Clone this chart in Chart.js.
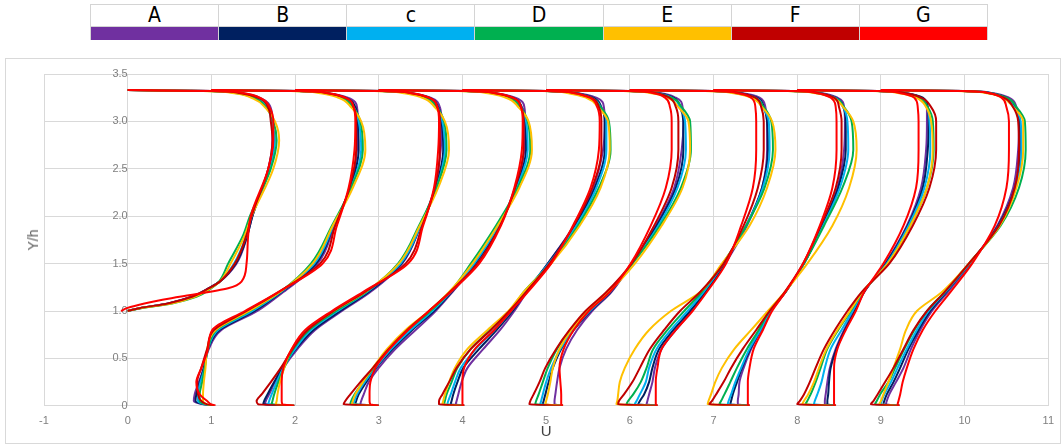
<!DOCTYPE html>
<html>
<head>
<meta charset="utf-8">
<script src="https://cdn.jsdelivr.net/npm/chart.js@4.4.1/dist/chart.umd.min.js"></script>
<style>
  html, body { margin: 0; padding: 0; background: #fff; }
  body { width: 1063px; height: 445px; position: relative; overflow: hidden; font-family: "Liberation Sans", Arial, sans-serif; }
  #key { position: absolute; left: 90px; top: 4px; width: 898px; border-collapse: collapse; table-layout: fixed; }
  #key td { width: 128px; padding: 0; border: 1px solid #d4d4d4; text-align: center; box-sizing: border-box; overflow: hidden; }
  #key tr.names td { height: 22px; line-height: 21px; font-size: 21px; font-family: "Liberation Sans Narrow", "DejaVu Sans Condensed", sans-serif; color: #000; }
  #key tr.swatches td { height: 13px; border-top: none; border-bottom: none; }
  #frame { position: absolute; left: 5px; top: 58px; width: 1054px; height: 384px; border: 1px solid #d9d9d9; }
  #chart { position: absolute; left: 0; top: 58px; }
  #ytitle { position: absolute; left: 33px; top: 240px; transform: translate(-50%, -50%) rotate(-90deg); font-size: 14px; color: #595959; white-space: nowrap; }
</style>
</head>
<body>
<table id="key"><tr class="names"></tr><tr class="swatches"></tr></table>
<div id="frame"></div>
<canvas id="chart" width="1063" height="387"></canvas>
<div id="ytitle">Y/h</div>
<script>
const seriesNames  = ['A', 'B', 'c', 'D', 'E', 'F', 'G'];
const seriesColors = ['#7030a0', '#002060', '#00b0f0', '#00b050', '#ffc000', '#c00000', '#ff0000'];

// heights of the sampled points: profile 0 starts on the step (Y/h = 1), the others on the floor
const yStep = [1.0, 1.03, 1.08, 1.15, 1.24, 1.31, 1.5, 1.8, 2.0, 2.5, 2.8, 3.0, 3.14, 3.24, 3.3, 3.32, 3.33];
const yWall = [0, 0.015, 0.05, 0.12, 0.25, 0.4, 0.6, 0.8, 1.0, 1.2, 1.5, 1.9, 2.3, 2.7, 3.0, 3.15, 3.25, 3.3, 3.32, 3.33];

// plotted U position for each of the 10 profiles (profile n is shifted by n)
const uA = [
  [0, 0.14, 0.48, 0.76, 0.97, 1.10, 1.30, 1.43, 1.49, 1.68, 1.73, 1.73, 1.71, 1.60, 1.36, 1.02, 0],
  [1.03, 0.90, 0.79, 0.80, 0.85, 0.91, 0.97, 1.12, 1.55, 1.86, 2.27, 2.47, 2.66, 2.74, 2.75, 2.74, 2.63, 2.38, 2.05, 1],
  [1.99, 1.64, 1.65, 1.69, 1.76, 1.86, 2.03, 2.24, 2.56, 2.90, 3.28, 3.50, 3.67, 3.74, 3.75, 3.73, 3.62, 3.38, 3.05, 2],
  [3.00, 2.78, 2.79, 2.82, 2.88, 3.00, 3.20, 3.44, 3.68, 3.88, 4.16, 4.44, 4.63, 4.74, 4.75, 4.74, 4.63, 4.38, 4.05, 3],
  [4.02, 3.92, 3.93, 3.95, 3.99, 4.06, 4.25, 4.45, 4.62, 4.77, 5.02, 5.33, 5.56, 5.68, 5.70, 5.69, 5.60, 5.36, 5.02, 4],
  [5.20, 5.10, 5.10, 5.11, 5.13, 5.16, 5.24, 5.37, 5.55, 5.78, 6.02, 6.31, 6.53, 6.62, 6.64, 6.63, 6.55, 6.35, 6.02, 5],
  [6.33, 6.20, 6.21, 6.23, 6.27, 6.30, 6.38, 6.55, 6.74, 6.91, 7.14, 7.40, 7.58, 7.64, 7.64, 7.62, 7.55, 7.33, 7.00, 6],
  [7.43, 7.29, 7.29, 7.30, 7.31, 7.36, 7.45, 7.57, 7.69, 7.86, 8.08, 8.30, 8.48, 8.56, 8.57, 8.56, 8.48, 8.27, 7.95, 7],
  [8.46, 8.33, 8.33, 8.34, 8.36, 8.39, 8.46, 8.56, 8.68, 8.80, 9.05, 9.31, 9.48, 9.54, 9.55, 9.55, 9.48, 9.28, 8.97, 8],
  [9.22, 9.06, 9.07, 9.10, 9.18, 9.27, 9.36, 9.47, 9.61, 9.80, 10.07, 10.39, 10.58, 10.64, 10.65, 10.62, 10.53, 10.32, 10.00, 9]
];
const uB = [
  [0, 0.14, 0.49, 0.77, 0.97, 1.10, 1.29, 1.43, 1.49, 1.69, 1.74, 1.72, 1.69, 1.57, 1.33, 1.00, 0],
  [1.03, 0.91, 0.81, 0.82, 0.86, 0.91, 0.96, 1.10, 1.52, 1.84, 2.25, 2.46, 2.66, 2.76, 2.75, 2.72, 2.60, 2.36, 2.05, 1],
  [1.99, 1.62, 1.63, 1.67, 1.75, 1.85, 2.01, 2.22, 2.54, 2.88, 3.27, 3.50, 3.68, 3.77, 3.75, 3.71, 3.60, 3.36, 3.05, 2],
  [3.00, 2.72, 2.73, 2.76, 2.85, 2.97, 3.17, 3.40, 3.66, 3.87, 4.15, 4.44, 4.64, 4.76, 4.75, 4.71, 4.60, 4.36, 4.05, 3],
  [4.02, 3.86, 3.87, 3.89, 3.94, 4.01, 4.20, 4.41, 4.60, 4.76, 5.02, 5.34, 5.58, 5.70, 5.70, 5.66, 5.56, 5.34, 5.02, 4],
  [5.20, 4.96, 4.97, 4.99, 5.03, 5.08, 5.18, 5.33, 5.53, 5.77, 6.02, 6.32, 6.55, 6.64, 6.64, 6.60, 6.52, 6.32, 6.00, 5],
  [6.33, 6.10, 6.12, 6.17, 6.23, 6.27, 6.35, 6.52, 6.72, 6.90, 7.13, 7.39, 7.58, 7.65, 7.64, 7.60, 7.52, 7.30, 7.00, 6],
  [7.43, 7.20, 7.21, 7.23, 7.28, 7.34, 7.44, 7.56, 7.68, 7.86, 8.08, 8.30, 8.49, 8.58, 8.58, 8.55, 8.46, 8.25, 7.95, 7],
  [8.46, 8.36, 8.36, 8.37, 8.38, 8.40, 8.47, 8.57, 8.69, 8.80, 9.06, 9.32, 9.50, 9.56, 9.57, 9.56, 9.50, 9.28, 8.97, 8],
  [9.22, 9.03, 9.04, 9.07, 9.15, 9.23, 9.33, 9.45, 9.59, 9.78, 10.06, 10.40, 10.60, 10.66, 10.66, 10.60, 10.50, 10.30, 10.00, 9]
];
const uC = [
  [0, 0.15, 0.50, 0.78, 0.98, 1.10, 1.27, 1.42, 1.48, 1.70, 1.76, 1.72, 1.67, 1.55, 1.30, 1.00, 0],
  [1.03, 0.92, 0.84, 0.84, 0.87, 0.92, 0.96, 1.08, 1.49, 1.83, 2.23, 2.46, 2.67, 2.79, 2.76, 2.70, 2.58, 2.35, 2.03, 1],
  [1.99, 1.68, 1.69, 1.72, 1.78, 1.86, 2.00, 2.19, 2.51, 2.86, 3.26, 3.50, 3.69, 3.79, 3.76, 3.70, 3.58, 3.35, 3.03, 2],
  [3.00, 2.70, 2.71, 2.74, 2.83, 2.96, 3.15, 3.38, 3.64, 3.86, 4.14, 4.43, 4.65, 4.78, 4.76, 4.70, 4.58, 4.35, 4.03, 3],
  [4.02, 3.82, 3.83, 3.86, 3.91, 3.98, 4.16, 4.38, 4.58, 4.75, 5.03, 5.36, 5.60, 5.72, 5.72, 5.65, 5.54, 5.32, 5.00, 4],
  [5.20, 4.93, 4.94, 4.96, 5.00, 5.06, 5.17, 5.32, 5.52, 5.76, 6.03, 6.34, 6.57, 6.67, 6.66, 6.60, 6.50, 6.30, 5.98, 5],
  [6.33, 6.06, 6.08, 6.12, 6.19, 6.23, 6.32, 6.49, 6.69, 6.88, 7.12, 7.39, 7.59, 7.67, 7.66, 7.59, 7.50, 7.28, 6.98, 6],
  [7.43, 7.17, 7.18, 7.21, 7.26, 7.33, 7.43, 7.56, 7.68, 7.86, 8.08, 8.31, 8.51, 8.61, 8.60, 8.55, 8.45, 8.24, 7.93, 7],
  [8.46, 8.20, 8.21, 8.24, 8.29, 8.33, 8.40, 8.53, 8.66, 8.79, 9.07, 9.33, 9.52, 9.59, 9.58, 9.55, 9.46, 9.27, 8.96, 8],
  [9.22, 9.00, 9.01, 9.04, 9.12, 9.20, 9.31, 9.43, 9.57, 9.77, 10.06, 10.41, 10.61, 10.68, 10.67, 10.59, 10.48, 10.29, 9.98, 9]
];
const uD = [
  [0, 0.16, 0.53, 0.82, 1.00, 1.09, 1.20, 1.38, 1.46, 1.71, 1.78, 1.74, 1.66, 1.53, 1.28, 0.95, 0],
  [1.03, 0.93, 0.86, 0.86, 0.89, 0.92, 0.96, 1.06, 1.46, 1.82, 2.19, 2.44, 2.67, 2.81, 2.78, 2.69, 2.56, 2.33, 2.00, 1],
  [1.99, 1.72, 1.73, 1.75, 1.80, 1.87, 1.98, 2.17, 2.49, 2.85, 3.23, 3.48, 3.69, 3.81, 3.78, 3.69, 3.56, 3.33, 3.00, 2],
  [3.00, 2.66, 2.67, 2.71, 2.81, 2.94, 3.12, 3.35, 3.62, 3.85, 4.10, 4.40, 4.66, 4.81, 4.78, 4.69, 4.56, 4.33, 4.00, 3],
  [4.02, 3.78, 3.79, 3.81, 3.87, 3.94, 4.10, 4.33, 4.57, 4.73, 5.05, 5.38, 5.63, 5.77, 5.75, 5.65, 5.52, 5.30, 4.98, 4],
  [5.20, 4.87, 4.88, 4.91, 4.96, 5.02, 5.13, 5.29, 5.49, 5.74, 6.03, 6.36, 6.61, 6.73, 6.72, 6.62, 6.50, 6.28, 5.96, 5],
  [6.33, 5.96, 5.98, 6.04, 6.13, 6.20, 6.28, 6.45, 6.65, 6.86, 7.11, 7.39, 7.61, 7.71, 7.69, 7.60, 7.48, 7.25, 6.95, 6],
  [7.43, 7.07, 7.09, 7.13, 7.20, 7.28, 7.40, 7.54, 7.67, 7.86, 8.08, 8.32, 8.54, 8.67, 8.65, 8.56, 8.44, 8.22, 7.90, 7],
  [8.46, 8.10, 8.12, 8.16, 8.22, 8.28, 8.36, 8.49, 8.64, 8.78, 9.08, 9.35, 9.55, 9.63, 9.62, 9.56, 9.45, 9.25, 8.94, 8],
  [9.22, 8.93, 8.95, 8.99, 9.09, 9.17, 9.28, 9.40, 9.55, 9.76, 10.05, 10.43, 10.65, 10.73, 10.72, 10.62, 10.50, 10.28, 9.96, 9]
];
const uE = [
  [0, 0.15, 0.52, 0.80, 0.99, 1.10, 1.23, 1.40, 1.48, 1.74, 1.81, 1.76, 1.65, 1.50, 1.25, 0.90, 0],
  [1.03, 0.95, 0.90, 0.90, 0.91, 0.93, 0.95, 1.05, 1.45, 1.82, 2.21, 2.45, 2.69, 2.84, 2.79, 2.67, 2.52, 2.28, 1.95, 1],
  [1.99, 1.77, 1.78, 1.79, 1.82, 1.87, 1.96, 2.14, 2.46, 2.84, 3.24, 3.49, 3.71, 3.84, 3.79, 3.67, 3.52, 3.28, 2.95, 2],
  [3.00, 2.68, 2.69, 2.72, 2.81, 2.93, 3.10, 3.32, 3.60, 3.84, 4.12, 4.42, 4.68, 4.83, 4.79, 4.67, 4.52, 4.28, 3.95, 3],
  [4.02, 3.76, 3.77, 3.79, 3.84, 3.91, 4.06, 4.30, 4.55, 4.73, 5.06, 5.40, 5.65, 5.76, 5.74, 5.62, 5.48, 5.25, 4.95, 4],
  [5.20, 4.99, 5.00, 5.02, 5.05, 5.08, 5.16, 5.30, 5.50, 5.75, 6.06, 6.38, 6.63, 6.72, 6.70, 6.58, 6.45, 6.24, 5.92, 5],
  [6.33, 5.84, 5.85, 5.86, 5.88, 5.94, 6.06, 6.23, 6.49, 6.84, 7.10, 7.43, 7.64, 7.74, 7.70, 7.58, 7.45, 7.22, 6.90, 6],
  [7.43, 6.93, 6.94, 6.97, 7.02, 7.10, 7.25, 7.45, 7.65, 7.85, 8.12, 8.42, 8.62, 8.71, 8.67, 8.55, 8.42, 8.20, 7.88, 7],
  [8.46, 8.06, 8.08, 8.13, 8.20, 8.26, 8.35, 8.48, 8.63, 8.78, 9.08, 9.35, 9.55, 9.62, 9.60, 9.54, 9.42, 9.20, 8.90, 8],
  [9.22, 8.98, 9.00, 9.03, 9.09, 9.15, 9.23, 9.30, 9.43, 9.73, 10.05, 10.42, 10.62, 10.70, 10.70, 10.58, 10.45, 10.25, 9.92, 9]
];
const uF = [
  [0, 0.14, 0.48, 0.77, 0.97, 1.10, 1.28, 1.42, 1.48, 1.68, 1.73, 1.71, 1.68, 1.58, 1.33, 1.00, 0],
  [1.04, 0.95, 0.88, 0.84, 0.83, 0.88, 0.95, 1.03, 1.42, 1.80, 2.30, 2.48, 2.65, 2.73, 2.73, 2.70, 2.60, 2.37, 2.05, 1],
  [1.99, 1.56, 1.54, 1.60, 1.71, 1.83, 1.97, 2.15, 2.46, 2.83, 3.32, 3.52, 3.67, 3.73, 3.73, 3.70, 3.60, 3.37, 3.05, 2],
  [3.00, 2.58, 2.60, 2.66, 2.78, 2.93, 3.12, 3.34, 3.60, 3.85, 4.18, 4.45, 4.63, 4.73, 4.73, 4.70, 4.60, 4.37, 4.05, 3],
  [4.02, 3.72, 3.72, 3.76, 3.84, 3.93, 4.10, 4.34, 4.56, 4.76, 5.04, 5.33, 5.55, 5.66, 5.66, 5.63, 5.54, 5.33, 5.02, 4],
  [5.20, 4.80, 4.81, 4.85, 4.92, 4.99, 5.12, 5.28, 5.47, 5.72, 6.02, 6.29, 6.50, 6.58, 6.58, 6.55, 6.47, 6.30, 6.00, 5],
  [6.33, 5.86, 5.87, 5.93, 6.03, 6.12, 6.24, 6.41, 6.60, 6.84, 7.12, 7.36, 7.53, 7.60, 7.60, 7.57, 7.50, 7.30, 7.00, 6],
  [7.43, 6.95, 6.98, 7.03, 7.12, 7.21, 7.35, 7.51, 7.67, 7.85, 8.07, 8.28, 8.46, 8.53, 8.53, 8.50, 8.44, 8.25, 7.95, 7],
  [8.46, 8.00, 8.03, 8.08, 8.15, 8.22, 8.32, 8.45, 8.60, 8.77, 9.10, 9.38, 9.58, 9.66, 9.66, 9.60, 9.48, 9.28, 8.97, 8],
  [9.22, 8.88, 8.91, 8.96, 9.05, 9.15, 9.27, 9.39, 9.55, 9.76, 10.05, 10.41, 10.60, 10.65, 10.64, 10.58, 10.47, 10.28, 9.98, 9]
];
const uG = [
  [-0.08, -0.01, 0.20, 0.62, 1.20, 1.36, 1.42, 1.44, 1.47, 1.68, 1.74, 1.74, 1.70, 1.60, 1.38, 1.05, 0],
  [1.05, 1.00, 0.95, 0.86, 0.82, 0.88, 0.96, 1.01, 1.40, 1.80, 2.33, 2.50, 2.64, 2.71, 2.72, 2.70, 2.60, 2.38, 2.05, 1],
  [1.99, 1.85, 1.84, 1.84, 1.84, 1.86, 1.96, 2.12, 2.44, 2.81, 3.35, 3.53, 3.66, 3.71, 3.72, 3.70, 3.60, 3.38, 3.05, 2],
  [3.00, 2.90, 2.89, 2.89, 2.90, 2.96, 3.13, 3.35, 3.60, 3.86, 4.20, 4.46, 4.62, 4.71, 4.72, 4.70, 4.60, 4.38, 4.05, 3],
  [4.02, 4.00, 4.00, 4.00, 4.00, 4.02, 4.15, 4.38, 4.58, 4.78, 5.06, 5.32, 5.53, 5.63, 5.64, 5.61, 5.52, 5.32, 5.02, 4],
  [5.20, 5.18, 5.18, 5.18, 5.17, 5.16, 5.21, 5.33, 5.51, 5.76, 6.01, 6.25, 6.43, 6.50, 6.50, 6.48, 6.42, 6.27, 5.98, 5],
  [6.33, 6.31, 6.31, 6.31, 6.31, 6.33, 6.38, 6.55, 6.75, 6.92, 7.15, 7.33, 7.47, 7.51, 7.51, 7.50, 7.45, 7.27, 6.98, 6],
  [7.43, 7.41, 7.41, 7.41, 7.41, 7.43, 7.48, 7.59, 7.70, 7.86, 8.07, 8.27, 8.42, 8.47, 8.47, 8.46, 8.40, 8.22, 7.93, 7],
  [8.46, 8.44, 8.44, 8.44, 8.44, 8.44, 8.48, 8.58, 8.70, 8.80, 9.03, 9.27, 9.42, 9.45, 9.45, 9.44, 9.40, 9.22, 8.95, 8],
  [9.22, 9.20, 9.21, 9.23, 9.26, 9.31, 9.39, 9.50, 9.65, 9.83, 10.09, 10.36, 10.50, 10.53, 10.53, 10.50, 10.44, 10.28, 9.98, 9]
];

const series = [uA, uB, uC, uD, uE, uF, uG];

// legend strip above the plot
const nameRow = document.querySelector('#key tr.names');
const swatchRow = document.querySelector('#key tr.swatches');
seriesNames.forEach((name, i) => {
  const td = document.createElement('td');
  td.textContent = name;
  nameRow.appendChild(td);
  const sw = document.createElement('td');
  sw.style.background = seriesColors[i];
  swatchRow.appendChild(sw);
});

const datasets = [];
series.forEach((profiles, s) => {
  profiles.forEach((xs, p) => {
    const ys = p === 0 ? yStep : yWall;
    datasets.push({
      label: seriesNames[s],
      data: xs.map((x, i) => ({ x: x, y: ys[i] })),
      borderColor: seriesColors[s],
      backgroundColor: seriesColors[s],
      borderWidth: 2,
      pointRadius: 0,
      fill: false,
      cubicInterpolationMode: 'monotone',
      order: seriesNames.length - s
    });
  });
});

const tickFont = { family: "'Liberation Sans', Arial, sans-serif", size: 11 };
const gridColor = '#d9d9d9';

new Chart(document.getElementById('chart').getContext('2d'), {
  type: 'line',
  data: { datasets },
  options: {
    indexAxis: 'y',
    responsive: false,
    animation: false,
    events: [],
    layout: { padding: { left: 44, right: 13, top: 16, bottom: 0 } },
    plugins: { legend: { display: false }, tooltip: { enabled: false } },
    scales: {
      x: {
        type: 'linear',
        min: -1,
        max: 11,
        ticks: { stepSize: 1, padding: 9, color: '#7f7f7f', font: tickFont },
        grid: { color: gridColor, drawTicks: false },
        border: { color: gridColor },
        title: {
          display: true,
          text: 'U',
          color: '#404040',
          font: { family: "'Liberation Sans', Arial, sans-serif", size: 15 },
          padding: { top: -14, bottom: 4 }
        }
      },
      y: {
        type: 'linear',
        position: { x: 0 },
        min: 0,
        max: 3.5,
        ticks: { stepSize: 0.5, padding: 8, color: '#7f7f7f', font: tickFont },
        grid: { color: gridColor, drawTicks: false },
        border: { color: gridColor }
      }
    }
  }
});
</script>
</body>
</html>
